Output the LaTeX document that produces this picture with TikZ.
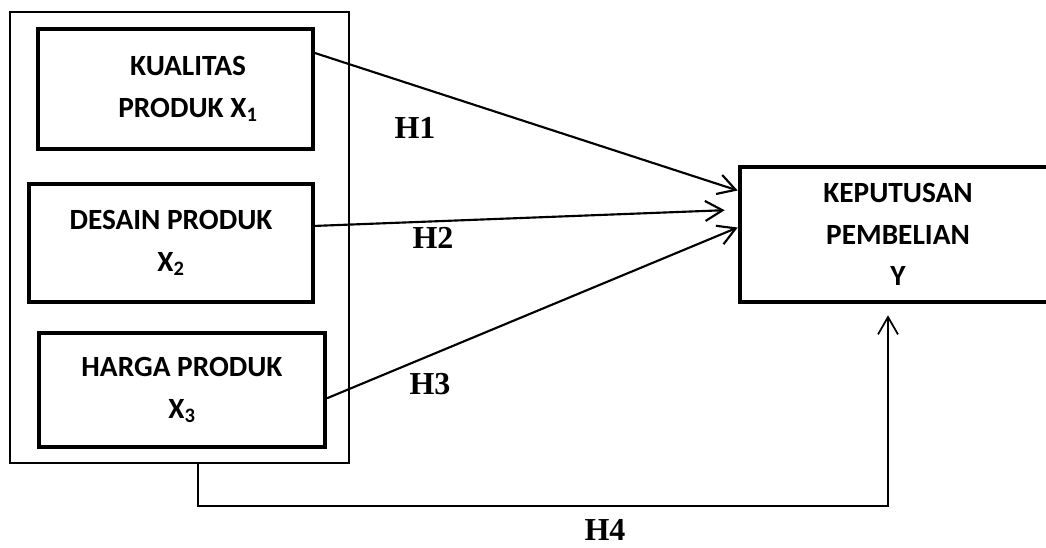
\documentclass[tikz,border=0pt]{standalone}
\usepackage{fontspec}
\setmainfont{Carlito}
\newfontfamily\hfont{Liberation Serif}
\usepackage{tikz}
\usetikzlibrary{arrows.meta, positioning, calc}

\begin{document}
\begin{tikzpicture}[
    x=0.75pt, y=-0.75pt,
    box/.style={draw, rectangle, line width=3pt, align=center, inner sep=0pt,
        font=\fontsize{22}{31}\selectfont\bfseries},
    group/.style={draw, rectangle, line width=1.1pt},
    hlabel/.style={font=\fontsize{24}{28}\selectfont\hfont\bfseries, inner sep=1pt},
    arrow/.style={line width=1.6pt, -{Straight Barb[length=13pt,width=15pt]}}
]
\clip (0,0) rectangle (1046,548);

\node (group) [group, minimum width=254.25pt, minimum height=338.25pt] at (179.5,237.5) {};
\node (kualitas) [box, minimum width=206.25pt, minimum height=90pt] at (175.5,89)
    {\hspace*{18.75pt}KUALITAS\\\hspace*{18.75pt}PRODUK X\textsubscript{1}};
\node (desain) [box, minimum width=213pt, minimum height=88.5pt] at (171,243)
    {DESAIN PRODUK\\X\textsubscript{2}};
\node (harga) [box, minimum width=214.5pt, minimum height=85.5pt] at (182,390)
    {HARGA PRODUK\\X\textsubscript{3}};
\node (keputusan) [box, line width=3.5pt, minimum width=237pt, minimum height=101.25pt] at (898,234.5)
    {KEPUTUSAN\\PEMBELIAN\\Y};

\draw [arrow] ($(kualitas.north east)!0.21!(kualitas.south east)$) -- ($(keputusan.north west)!0.185!(keputusan.south west)$);
\draw [arrow] ($(desain.north east)!0.36!(desain.south east)$) -- ([xshift=-9.75pt]$(keputusan.north west)!0.326!(keputusan.south west)$);
\draw [arrow] ($(harga.north east)!0.57!(harga.south east)$) -- ($(keputusan.north west)!0.45!(keputusan.south west)$);
\draw [arrow, line width=1.3pt] ([xshift=13.9pt]group.south) -- ++(0,42) -| ([xshift=-7.5pt,yshift=-8.25pt]keputusan.south);

\node (h1) [hlabel] at (415,128) {H1};
\node (h2) [hlabel] at (433,238) {H2};
\node (h3) [hlabel] at (430,384) {H3};
\node (h4) [hlabel] at (605,530) {H4};
\end{tikzpicture}
\end{document}
